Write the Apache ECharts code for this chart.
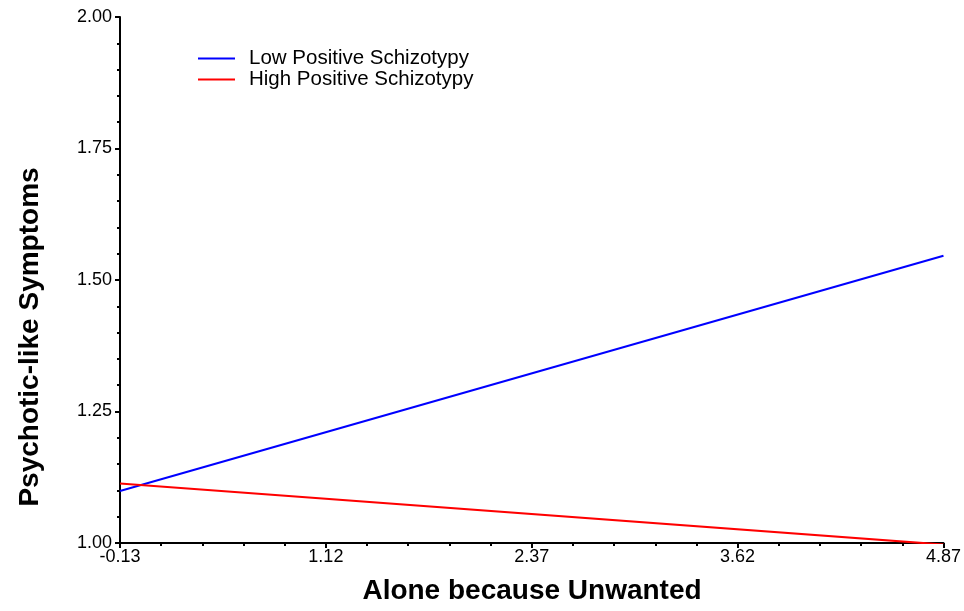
<!DOCTYPE html>
<html>
<head>
<meta charset="utf-8">
<title>Psychotic-like Symptoms by Alone because Unwanted</title>
<script src="https://cdn.jsdelivr.net/npm/echarts@6/dist/echarts.min.js"></script>
<style>
  html, body { margin: 0; padding: 0; background: #fff; }
  #chart { width: 964px; height: 611px; }
</style>
</head>
<body>
<div id="chart"></div>
<script>
// Simple slopes: predicted symptoms at the low and high end of the predictor
const xValues = [-0.13, 4.87];
const lowPositive = [1.099, 1.546];
const highPositive = [1.113, 0.997];
const seriesNames = ['Low Positive Schizotypy', 'High Positive Schizotypy'];
const xTicks = ['-0.13', '1.12', '2.37', '3.62', '4.87'];
const yTicks = ['1.00', '1.25', '1.50', '1.75', '2.00'];

const pairs = (ys) => xValues.map((x, i) => [x, ys[i]]);
const font = 'Arial, "Liberation Sans", sans-serif';

const chart = echarts.init(document.getElementById('chart'), null, { renderer: 'canvas' });

chart.setOption({
  animation: false,
  backgroundColor: '#ffffff',
  grid: { left: 120, right: 19, top: 17, bottom: 68, containLabel: false },
  legend: {
    orient: 'vertical',
    left: 198,
    top: 48,
    padding: 0,
    icon: 'rect',
    itemWidth: 37,
    itemHeight: 2,
    itemGap: 0,
    data: seriesNames,
    textStyle: {
      fontFamily: font,
      fontSize: 20.5,
      lineHeight: 20,
      color: '#000',
      padding: [0, 0, 0, 9]
    }
  },
  xAxis: {
    type: 'value',
    min: -0.13,
    max: 4.87,
    interval: 1.25,
    axisLine: { onZero: false, lineStyle: { color: '#000', width: 2 } },
    axisTick: { show: true, length: 5, lineStyle: { color: '#000', width: 2 } },
    minorTick: { show: true, splitNumber: 5, length: 3, lineStyle: { color: '#000', width: 2 } },
    splitLine: { show: false },
    axisLabel: {
      margin: 5,
      fontFamily: font,
      fontSize: 18,
      color: '#000',
      showMinLabel: true,
      showMaxLabel: true,
      formatter: (v) => {
        const s = v.toFixed(2);
        return xTicks.includes(s) ? s : '';
      }
    }
  },
  yAxis: {
    type: 'value',
    min: 1,
    max: 2,
    interval: 0.25,
    axisLine: { show: true, onZero: false, lineStyle: { color: '#000', width: 2 } },
    axisTick: { show: true, length: 5, lineStyle: { color: '#000', width: 2 } },
    minorTick: { show: true, splitNumber: 5, length: 3, lineStyle: { color: '#000', width: 2 } },
    splitLine: { show: false },
    axisLabel: {
      margin: 8,
      fontFamily: font,
      fontSize: 18,
      color: '#000',
      formatter: (v) => {
        const s = v.toFixed(2);
        return yTicks.includes(s) ? s : '';
      }
    }
  },
  series: [
    {
      name: seriesNames[0],
      type: 'line',
      data: pairs(lowPositive),
      symbol: 'none',
      clip: true,
      lineStyle: { color: '#0000ff', width: 2 },
      itemStyle: { color: '#0000ff' }
    },
    {
      name: seriesNames[1],
      type: 'line',
      data: pairs(highPositive),
      symbol: 'none',
      clip: true,
      lineStyle: { color: '#ff0000', width: 2 },
      itemStyle: { color: '#ff0000' }
    }
  ],
  graphic: [
    {
      type: 'text',
      x: 532,
      y: 591,
      style: {
        text: 'Alone because Unwanted',
        fontFamily: font,
        fontSize: 28,
        fontWeight: 'bold',
        fill: '#000',
        align: 'center',
        verticalAlign: 'middle'
      }
    },
    {
      type: 'text',
      x: 30,
      y: 337,
      rotation: Math.PI / 2,
      style: {
        text: 'Psychotic-like Symptoms',
        fontFamily: font,
        fontSize: 28,
        fontWeight: 'bold',
        fill: '#000',
        align: 'center',
        verticalAlign: 'middle'
      }
    }
  ]
});
</script>
</body>
</html>
